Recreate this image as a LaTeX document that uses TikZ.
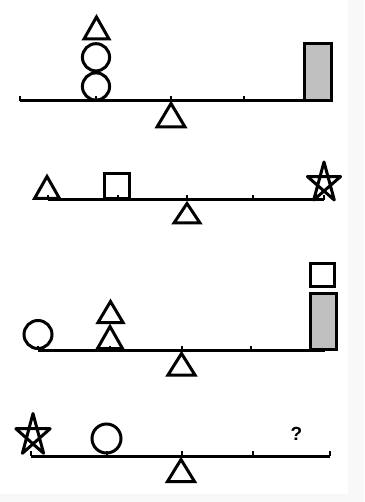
\documentclass[tikz,border=0pt]{standalone}
\usepackage{fontspec}
\setmainfont{Liberation Sans}
\definecolor{boxgray}{HTML}{C0C0C0}
\definecolor{stripgray}{HTML}{F8F8F8}
\tikzset{
  ink/.style={draw=black, line width=3pt, line join=miter},
  starline/.style={draw=black, line width=3pt, line join=round},
  beamline/.style={draw=black, line width=3pt, line cap=butt},
  tickline/.style={draw=black, line width=2.2pt},
}
\newcommand{\pentastar}[4]{% cx cy rx ry
  \draw[starline, shift={(#1,#2)}] (-90:#3 and #4) -- (54:#3 and #4) -- (198:#3 and #4) -- (342:#3 and #4) -- (126:#3 and #4) -- cycle;}
\begin{document}
\begin{tikzpicture}[x=1pt,y=-1pt]
\useasboundingbox (0,0) rectangle (364,502);
\fill[white] (0,0) rectangle (364,502);
\fill[stripgray] (348,0) rectangle (364,502);
\fill[stripgray] (0,494) rectangle (364,502);

% ---------- seesaw 1 ----------
\draw[beamline] (20,101) -- (320,101);
\foreach \t in {20,96,171,244} \draw[tickline] (\t,101) -- (\t,96.5);
\draw[ink] (157,127) -- (171,103.5) -- (185,127) -- cycle;
\draw[ink] (96,86.5) circle (13.6);
\draw[ink] (96,57.3) circle (13.6);
\draw[ink] (84,39) -- (96.5,17) -- (109,39) -- cycle;
\draw[ink, fill=boxgray] (304.5,43.5) rectangle (331.5,101);

% ---------- seesaw 2 ----------
\draw[beamline] (48,200) -- (324,200);
\foreach \t in {48,118,187,253,324} \draw[tickline] (\t,200) -- (\t,195.5);
\draw[ink] (174,223) -- (187,203.5) -- (200,223) -- cycle;
\draw[ink] (34.5,198.5) -- (47,176.5) -- (59.5,198.5) -- cycle;
\draw[ink] (104.5,173.5) rectangle (129.5,198.5);
\pentastar{324}{183}{17.5}{21}

% ---------- seesaw 3 ----------
\draw[beamline] (38,350) -- (325,350);
\foreach \t in {38,110,182,251} \draw[tickline] (\t,350) -- (\t,345.5);
\draw[ink] (168,375) -- (181.5,353.5) -- (195,375) -- cycle;
\draw[ink] (38,334.5) circle (14);
\draw[ink] (97.5,348.5) -- (110,326.5) -- (122.5,348.5) -- cycle;
\draw[ink] (98,322.5) -- (110.5,301.5) -- (123,322.5) -- cycle;
\draw[ink, fill=boxgray] (310.5,293.5) rectangle (336.5,349.5);
\draw[ink] (310.5,263.5) rectangle (334.5,286.5);

% ---------- seesaw 4 ----------
\draw[beamline] (31,456) -- (330,456);
\foreach \t in {31,107,182,253,330} \draw[tickline] (\t,456) -- (\t,451);
\draw[ink] (167.5,481.5) -- (181,459.5) -- (194.5,481.5) -- cycle;
\pentastar{33}{435.5}{18}{22}
\draw[ink] (106.5,438.5) circle (14.5);
\node[font=\fontsize{19}{19}\selectfont\bfseries, inner sep=0pt] (q) at (296.5,434) {?};
\end{tikzpicture}
\end{document}
